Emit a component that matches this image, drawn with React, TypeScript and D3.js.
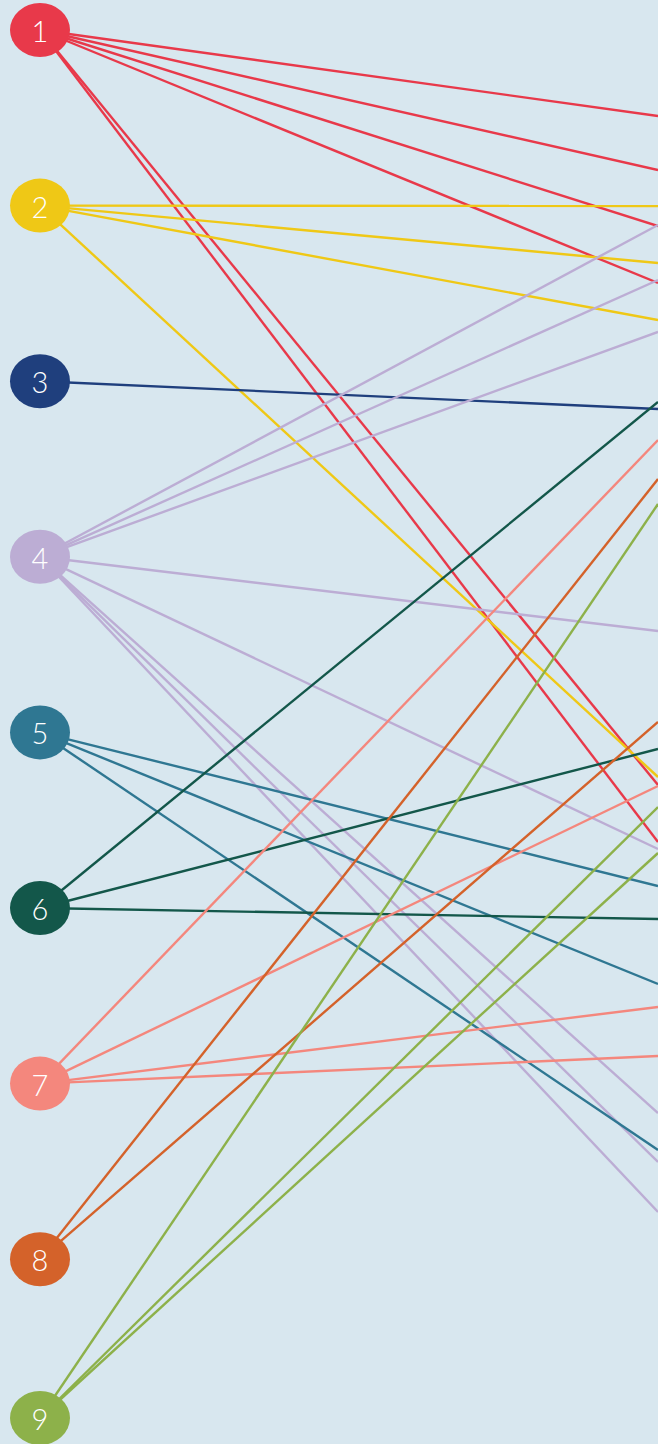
import React, { useEffect, useRef } from 'react'
import * as d3 from 'd3'

// node ids on the left column
const nodes = ['1', '2', '3', '4', '5', '6', '7', '8', '9']
const nodeColors = ['#e8394a', '#efc816', '#1f3f7d', '#bcadd4', '#2f7792', '#13574a', '#f4877d', '#d4622a', '#8db14a']

// where each node's links leave the picture on the right
const ends1 = [116, 170, 226, 283, 785, 842]
const ends2 = [206, 263, 320, 777]
const ends3 = [409]
const ends4 = [225, 280, 332, 631, 849, 1113, 1162, 1212]
const ends5 = [886, 984, 1150]
const ends6 = [402, 749, 919]
const ends7 = [440, 786, 1007, 1056]
const ends8 = [479, 722]
const ends9 = [504, 807, 853]
const linkEnds = [ends1, ends2, ends3, ends4, ends5, ends6, ends7, ends8, ends9]

const W = 658
const H = 1444

export default function App() {
  const ref = useRef<SVGSVGElement>(null)

  useEffect(() => {
    const svg = d3.select(ref.current)
    svg.selectAll('*').remove()

    const rx = 30, ry = 27, cx = 40

    const yNode = d3.scalePoint<string>().domain(nodes).range([30, 30 + 8 * 175.6])
    const nodeY = (n: string) => Math.min(yNode(n) as number, H - ry + 1)
    const yEnd = d3.scaleLinear().domain([0, H]).range([0, H])
    const color = d3.scaleOrdinal<string, string>().domain(nodes).range(nodeColors)

    svg.append('rect')
      .attr('width', W)
      .attr('height', H)
      .attr('fill', '#d8e7ef')

    const links: { src: string; end: number }[] = []
    nodes.forEach((n, i) => linkEnds[i].forEach(e => links.push({ src: n, end: e })))

    svg.append('g')
      .selectAll('line')
      .data(links)
      .enter()
      .append('line')
      .attr('x1', cx)
      .attr('y1', d => nodeY(d.src))
      .attr('x2', W)
      .attr('y2', d => yEnd(d.end))
      .attr('stroke', d => color(d.src))
      .attr('stroke-width', 2.4)

    const g = svg.append('g')
      .selectAll('g')
      .data(nodes)
      .enter()
      .append('g')
      .attr('transform', d => `translate(${cx},${nodeY(d)})`)

    g.append('ellipse')
      .attr('rx', rx)
      .attr('ry', ry)
      .attr('fill', d => color(d))

    g.append('text')
      .attr('y', 12)
      .attr('text-anchor', 'middle')
      .attr('fill', '#ffffff')
      .attr('font-family', 'Lato, "Open Sans", sans-serif')
      .attr('font-weight', 300)
      .attr('font-size', 29)
      .text(d => d)
  }, [])

  return (
    <svg
      ref={ref}
      width={W}
      height={H}
      style={{ position: 'absolute', left: 0, top: 0, display: 'block' }}
    />
  )
}
